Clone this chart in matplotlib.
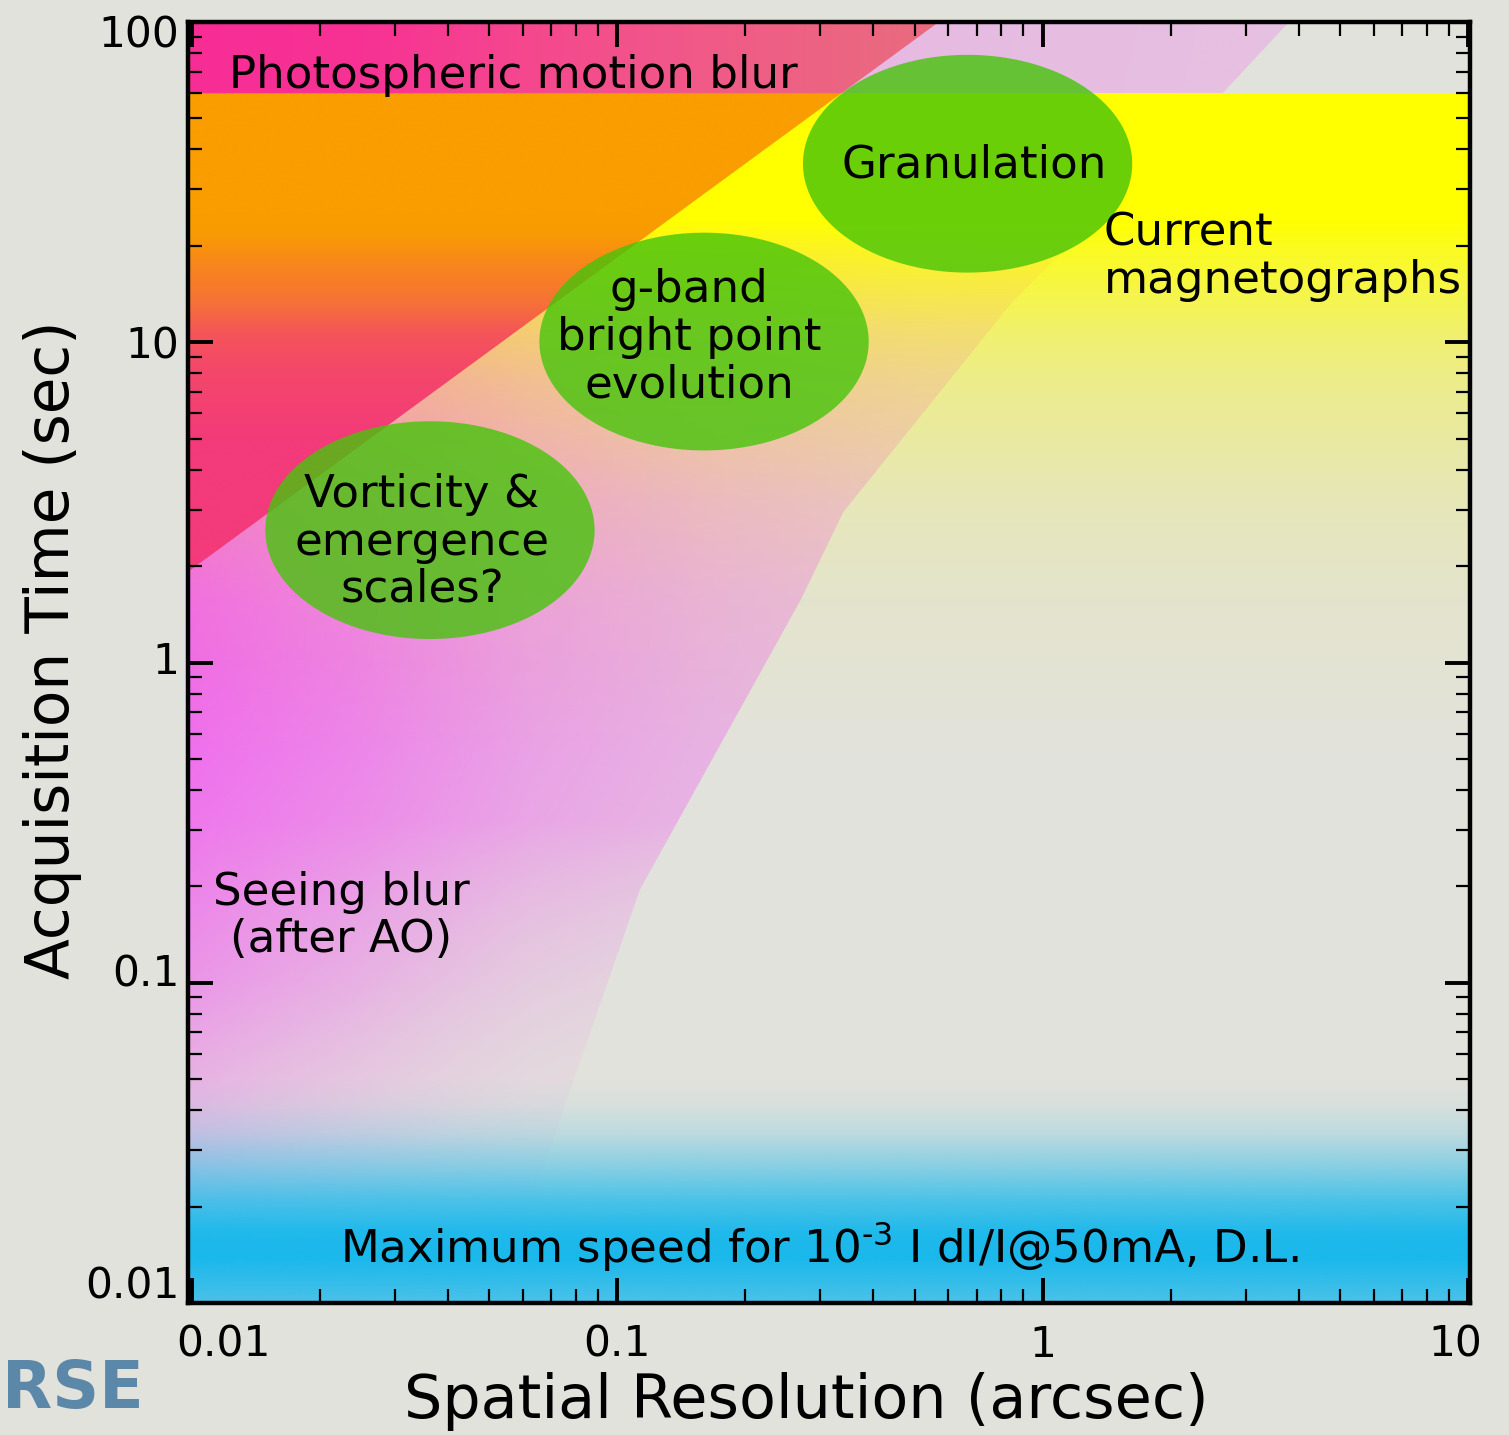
import numpy as np
import matplotlib
matplotlib.use("Agg")
import matplotlib.pyplot as plt
from matplotlib.patches import Polygon
from matplotlib.ticker import FuncFormatter, NullFormatter
from matplotlib.transforms import ScaledTranslation

# axis ranges
x_lim = (0.0098, 10.1)
y_lim = (0.01, 100)

# photospheric motion blur limit (straight line in log-log)
diag_x = [0.0098, 0.57]
diag_y = [1.92, 100]

# upper time limit of current magnetographs
mag_top = 60

# right edge of the seeing blur region
see_x = [0.052, 0.113, 0.27, 0.34, 0.85, 2.6, 3.74, 3.9]
see_y = [0.01, 0.195, 1.57, 2.95, 13.4, 58.4, 98, 100]

# science targets
ell_x = [0.0363, 0.160, 0.666]
ell_y = [2.59, 10.05, 36.1]

# labels
txt_photo = "Photospheric motion blur"
txt_mag = "Current\nmagnetographs"
txt_seeing = "Seeing blur\n(after AO)"
txt_speed = r"Maximum speed for 10$^{\text{-3}}$ I dI/I@50mA, D.L."
txt_ell = ["Vorticity &\nemergence\nscales?", "g-band\nbright point\nevolution", "Granulation"]

bg = "#e2e2dc"
fig = plt.figure(figsize=(15.09, 14.35), dpi=100, facecolor=bg)
ax = fig.add_axes([188 / 1509, 1 - 1303 / 1435, 1282 / 1509, 1281 / 1435])
ax.set_facecolor(bg)
ax.set_xscale("log")
ax.set_yscale("log")
ax.set_xlim(*x_lim)
ax.set_ylim(*y_lim)

# grid in log space, used for the colour gradients
nx, ny = 900, 900
lx0, lx1 = np.log10(x_lim)
ly0, ly1 = np.log10(y_lim)
LX, LY = np.meshgrid(np.linspace(lx0, lx1, nx), np.linspace(ly0, ly1, ny))


def layer(rgb, alpha, verts, z):
    img = np.zeros((ny, nx, 4))
    img[..., :3] = rgb
    img[..., 3] = np.clip(alpha, 0, 1)
    im = ax.imshow(img, extent=(0, 1, 0, 1), transform=ax.transAxes,
                   origin="lower", aspect="auto", interpolation="bilinear", zorder=z)
    clip = Polygon(verts, closed=True, transform=ax.transData)
    im.set_clip_path(clip)
    return im


# seeing blur (magenta, fading to the right and downwards)
ax_see = np.interp(LX, [-2.02, -1.6, -1.2, -0.8, -0.3, 0.6], [1.0, 0.8, 0.56, 0.42, 0.3, 0.25])
ay_see = np.interp(LY, [-2, -1.7, -1.4, -1.0, -0.5, 0, 2], [0.03, 0.12, 0.3, 0.58, 0.8, 0.92, 1.0])
k_see = np.interp(LY, [-1.6, -0.5], [3.5, 1.0])
a_see = ay_see * ax_see ** k_see
see_verts = [(x_lim[0], y_lim[0])] + list(zip(see_x, see_y)) + [(x_lim[0], y_lim[1])]
layer(np.array([242, 92, 240]) / 255, a_see, see_verts, 0.1)

# current magnetographs (yellow, fading downwards)
a_mag = np.interp(LY, [-0.3, 0.2, 0.5, 0.87, 1.03, 1.29, 1.38], [0, 0.07, 0.16, 0.36, 0.5, 0.85, 1.0])
mag_verts = [(x_lim[0], y_lim[0]), (x_lim[1], y_lim[0]), (x_lim[1], mag_top), (x_lim[0], mag_top)]
layer(np.array([255, 255, 0]) / 255, a_mag, mag_verts, 0.2)

# photospheric motion blur
top_l = [-2.02, -1.6, -1.2, -0.8, -0.25]
top_c = np.array([[247, 45, 150], [247, 50, 148], [245, 72, 142], [240, 90, 136], [233, 108, 126]]) / 255
rgb_top = np.stack([np.interp(LX, top_l, top_c[:, k]) for k in range(3)], axis=-1)
t = np.interp(LY, [0.7, 0.92, 1.03, 1.13, 1.235, 1.34, 1.4], [0, 0.14, 0.27, 0.57, 0.75, 0.98, 1.0])[..., None]
pink = np.array([243, 58, 122]) / 255
orange = np.array([249, 157, 0]) / 255
rgb_low = pink * (1 - t) + orange * t
rgb_mot = np.where((LY > np.log10(mag_top))[..., None], rgb_top, rgb_low)
mot_verts = [(diag_x[0] * 0.9, diag_y[0] * 0.9), (diag_x[0], diag_y[0]), (diag_x[1], diag_y[1]),
             (diag_x[1], y_lim[1] * 1.1), (x_lim[0] * 0.9, y_lim[1] * 1.1)]
layer(rgb_mot, np.ones_like(LX), mot_verts, 0.3)

# maximum speed band (cyan)
a_cy = np.interp(LY, [-2.0, -1.95, -1.86, -1.78, -1.68, -1.575, -1.47, -1.38, -1.3],
                 [0.75, 0.85, 1.0, 0.97, 0.75, 0.45, 0.18, 0.05, 0])
cy_verts = [(x_lim[0], y_lim[0]), (x_lim[1], y_lim[0]), (x_lim[1], y_lim[1]), (x_lim[0], y_lim[1])]
layer(np.array([25, 184, 236]) / 255, a_cy, cy_verts, 0.4)

# green target ellipses, round in log space
th = np.linspace(0, 2 * np.pi, 200)
for cx, cy in zip(ell_x, ell_y):
    ex = 10 ** (np.log10(cx) + 0.387 * np.cos(th))
    ey = 10 ** (np.log10(cy) + 0.340 * np.sin(th))
    ax.fill(ex, ey, color=(70 / 255, 196 / 255, 10 / 255), alpha=0.8, lw=0, zorder=1)

fs = 32.5
ls = 1.13
ax.text(0.01222, 62.2, txt_photo, fontsize=fs, ha="left", va="baseline", zorder=3)
ax.text(0.692, 32.6, txt_ell[2], fontsize=fs, ha="center", va="baseline", zorder=3)
ax.text(0.1477, 6.745, txt_ell[1], fontsize=fs, ha="center", va="baseline", linespacing=ls, zorder=3)
ax.text(0.03477, 1.545, txt_ell[0], fontsize=fs, ha="center", va="baseline", linespacing=ls, zorder=3)
ax.text(1.392, 14.25, txt_mag, fontsize=fs, ha="left", va="baseline", linespacing=ls, zorder=3)
ax.text(0.02243, 0.1247, txt_seeing, fontsize=fs, ha="center", va="baseline", linespacing=ls, zorder=3)
ax.text(0.2987, 0.01334, txt_speed, fontsize=fs, ha="center", va="baseline", zorder=3)

ax.xaxis.set_major_formatter(FuncFormatter(lambda v, p: f"{v:g}"))
ax.yaxis.set_major_formatter(FuncFormatter(lambda v, p: f"{v:g}"))
ax.xaxis.set_minor_formatter(NullFormatter())
ax.yaxis.set_minor_formatter(NullFormatter())
ax.tick_params(which="both", direction="in", top=True, right=True, labelsize=30.5)
ax.tick_params(which="major", length=18, width=2.8)
ax.tick_params(which="minor", length=10, width=1.6)
ax.tick_params(axis="x", pad=15)
ax.tick_params(axis="y", pad=6)
for s in ax.spines.values():
    s.set_linewidth(3.2)

ax.set_xlabel("Spatial Resolution (arcsec)", fontsize=43.5)
ax.set_ylabel("Acquisition Time (sec)", fontsize=43)
ax.xaxis.set_label_coords(0.482, -0.054)
ax.yaxis.set_label_coords(-0.083, 0.51)

fig.text(2 / 1509, 1 - 1408 / 1435, "RSE", ha="left", va="baseline", fontsize=47,
         fontweight="bold", color="#5b88a8")

# nudge a few tick labels the way the original slide has them
fig.canvas.draw()
x_shift = {0.01: 32, 10: -13}
y_shift = {100: -9, 1: 5, 0.1: 13, 0.01: 21}
for tick in ax.xaxis.get_major_ticks():
    for v, dx in x_shift.items():
        if np.isclose(tick.get_loc(), v):
            tick.label1.set_transform(tick.label1.get_transform()
                                      + ScaledTranslation(dx / 100, 0, fig.dpi_scale_trans))
for tick in ax.yaxis.get_major_ticks():
    for v, dy in y_shift.items():
        if np.isclose(tick.get_loc(), v):
            tick.label1.set_transform(tick.label1.get_transform()
                                      + ScaledTranslation(0, dy / 100, fig.dpi_scale_trans))

fig.savefig("out.png", dpi=100, facecolor=bg)
